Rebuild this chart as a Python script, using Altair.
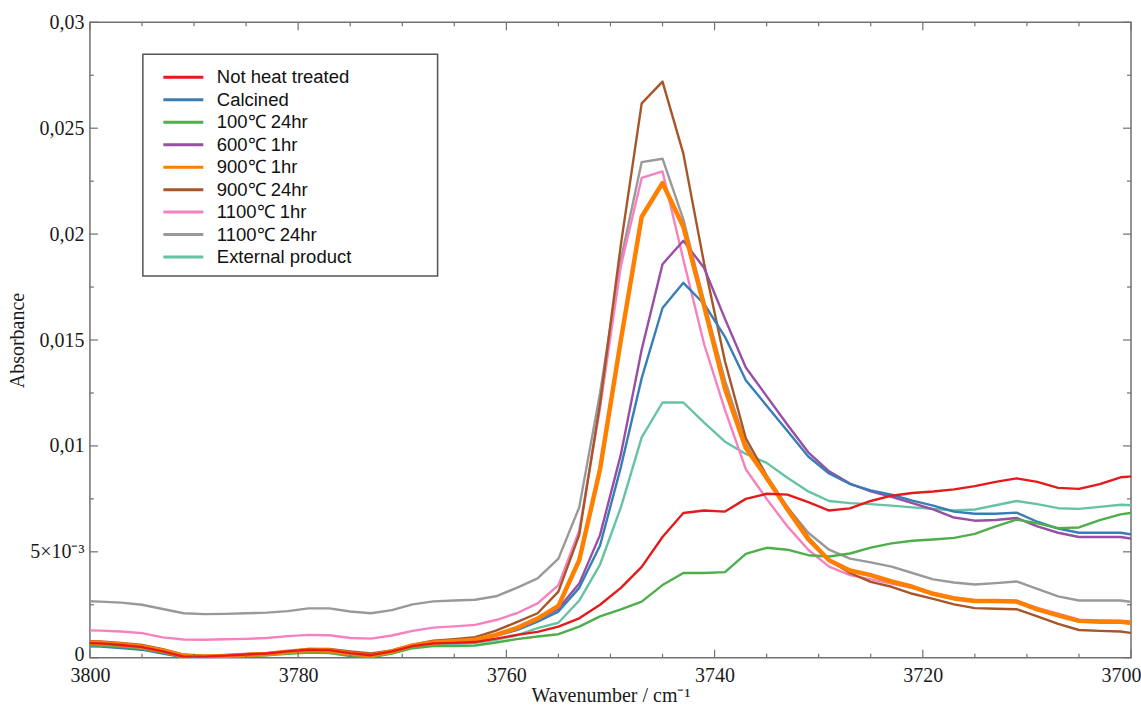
import altair as alt
import pandas as pd

# ---------------- data ----------------
wavenumber = [3801, 3799, 3797, 3795, 3793, 3791, 3789, 3787, 3785, 3783,
              3781, 3779, 3777, 3775, 3773, 3771, 3769, 3767, 3765, 3763,
              3761, 3759, 3757, 3755, 3753, 3751, 3749, 3747, 3745, 3743,
              3741, 3739, 3737, 3735, 3733, 3731, 3729, 3727, 3725, 3723,
              3721, 3719, 3717, 3715, 3713, 3711, 3709, 3707, 3705, 3703,
              3701, 3699]

not_heat_treated = [0.00070, 0.00068, 0.00060, 0.00050, 0.00030, 0.00005, 0.00005, 0.00010, 0.00015, 0.00020,
                    0.00030, 0.00038, 0.00036, 0.00022, 0.00012, 0.00030, 0.00055, 0.00068, 0.00070, 0.00074,
                    0.00090, 0.00108, 0.00122, 0.00147, 0.00186, 0.00250, 0.00330, 0.00429, 0.00570, 0.00683,
                    0.00695, 0.00690, 0.00750, 0.00774, 0.00770, 0.00735, 0.00695, 0.00705, 0.00740, 0.00765,
                    0.00778, 0.00785, 0.00795, 0.00810, 0.00830, 0.00847, 0.00830, 0.00802, 0.00797, 0.00820,
                    0.00852, 0.00860]

calcined = [0.00055, 0.00053, 0.00046, 0.00038, 0.00020, 0.00002, 0.00000, 0.00005, 0.00010, 0.00015,
            0.00025, 0.00032, 0.00030, 0.00018, 0.00010, 0.00030, 0.00058, 0.00072, 0.00078, 0.00084,
            0.00105, 0.00130, 0.00170, 0.00218, 0.00330, 0.00530, 0.00900, 0.01320, 0.01651, 0.01770,
            0.01670, 0.01515, 0.01310, 0.01190, 0.01070, 0.00950, 0.00870, 0.00820, 0.00790, 0.00770,
            0.00742, 0.00718, 0.00690, 0.00680, 0.00680, 0.00685, 0.00642, 0.00610, 0.00590, 0.00590,
            0.00590, 0.00575]

c100_24hr = [0.00060, 0.00058, 0.00052, 0.00043, 0.00025, 0.00003, 0.00000, 0.00003, 0.00008, 0.00012,
             0.00018, 0.00024, 0.00022, 0.00008, 0.00002, 0.00020, 0.00045, 0.00055, 0.00055, 0.00058,
             0.00072, 0.00088, 0.00100, 0.00111, 0.00147, 0.00195, 0.00228, 0.00265, 0.00343, 0.00400,
             0.00400, 0.00404, 0.00490, 0.00519, 0.00510, 0.00484, 0.00478, 0.00492, 0.00520, 0.00540,
             0.00552, 0.00558, 0.00566, 0.00585, 0.00620, 0.00652, 0.00635, 0.00612, 0.00615, 0.00650,
             0.00677, 0.00690]

c600_1hr = [0.00060, 0.00058, 0.00050, 0.00042, 0.00024, 0.00004, 0.00002, 0.00006, 0.00012, 0.00017,
            0.00027, 0.00034, 0.00032, 0.00020, 0.00012, 0.00032, 0.00060, 0.00074, 0.00080, 0.00086,
            0.00108, 0.00135, 0.00178, 0.00232, 0.00350, 0.00580, 0.00960, 0.01455, 0.01858, 0.01969,
            0.01840, 0.01600, 0.01370, 0.01235, 0.01100, 0.00970, 0.00880, 0.00822, 0.00785, 0.00760,
            0.00730, 0.00700, 0.00662, 0.00647, 0.00650, 0.00660, 0.00620, 0.00590, 0.00570, 0.00570,
            0.00570, 0.00555]

c900_1hr = [0.00072, 0.00070, 0.00062, 0.00052, 0.00033, 0.00008, 0.00005, 0.00008, 0.00013, 0.00018,
            0.00028, 0.00036, 0.00034, 0.00020, 0.00010, 0.00030, 0.00058, 0.00072, 0.00078, 0.00085,
            0.00108, 0.00140, 0.00185, 0.00245, 0.00460, 0.00890, 0.01500, 0.02082, 0.02241, 0.02035,
            0.01660, 0.01270, 0.00990, 0.00850, 0.00700, 0.00560, 0.00460, 0.00412, 0.00390, 0.00360,
            0.00335, 0.00302, 0.00280, 0.00268, 0.00268, 0.00265, 0.00228, 0.00200, 0.00174, 0.00170,
            0.00170, 0.00160]

c900_24hr = [0.00078, 0.00077, 0.00070, 0.00060, 0.00040, 0.00015, 0.00010, 0.00012, 0.00018, 0.00022,
             0.00030, 0.00042, 0.00042, 0.00030, 0.00020, 0.00035, 0.00062, 0.00080, 0.00088, 0.00097,
             0.00128, 0.00168, 0.00210, 0.00312, 0.00580, 0.01200, 0.01950, 0.02617, 0.02720, 0.02380,
             0.01860, 0.01400, 0.01036, 0.00860, 0.00710, 0.00570, 0.00460, 0.00400, 0.00358, 0.00335,
             0.00302, 0.00278, 0.00252, 0.00234, 0.00231, 0.00229, 0.00195, 0.00160, 0.00131, 0.00127,
             0.00124, 0.00110]

c1100_1hr = [0.00130, 0.00128, 0.00124, 0.00116, 0.00096, 0.00086, 0.00085, 0.00087, 0.00089, 0.00093,
             0.00102, 0.00108, 0.00106, 0.00093, 0.00090, 0.00105, 0.00127, 0.00142, 0.00148, 0.00155,
             0.00178, 0.00210, 0.00257, 0.00343, 0.00600, 0.01180, 0.01850, 0.02265, 0.02296, 0.01880,
             0.01480, 0.01170, 0.00890, 0.00750, 0.00620, 0.00510, 0.00430, 0.00390, 0.00370, 0.00350,
             0.00330, 0.00305, 0.00285, 0.00272, 0.00272, 0.00268, 0.00235, 0.00208, 0.00180, 0.00176,
             0.00174, 0.00165]

c1100_24hr = [0.00268, 0.00265, 0.00260, 0.00250, 0.00230, 0.00210, 0.00206, 0.00207, 0.00210, 0.00213,
              0.00220, 0.00233, 0.00233, 0.00218, 0.00210, 0.00225, 0.00252, 0.00266, 0.00270, 0.00274,
              0.00290, 0.00330, 0.00375, 0.00468, 0.00710, 0.01250, 0.01880, 0.02340, 0.02356, 0.02070,
              0.01680, 0.01310, 0.01010, 0.00840, 0.00710, 0.00590, 0.00510, 0.00468, 0.00450, 0.00430,
              0.00400, 0.00370, 0.00355, 0.00346, 0.00352, 0.00360, 0.00325, 0.00290, 0.00270, 0.00270,
              0.00270, 0.00258]

external_product = [0.00058, 0.00056, 0.00048, 0.00040, 0.00022, 0.00003, 0.00001, 0.00005, 0.00010, 0.00014,
                    0.00022, 0.00028, 0.00026, 0.00012, 0.00005, 0.00025, 0.00050, 0.00062, 0.00065, 0.00070,
                    0.00085, 0.00105, 0.00140, 0.00165, 0.00270, 0.00440, 0.00710, 0.01040, 0.01205, 0.01205,
                    0.01110, 0.01020, 0.00962, 0.00920, 0.00850, 0.00785, 0.00740, 0.00730, 0.00725, 0.00718,
                    0.00710, 0.00703, 0.00695, 0.00700, 0.00720, 0.00740, 0.00725, 0.00706, 0.00703, 0.00712,
                    0.00722, 0.00718]

series_names = ["Not heat treated", "Calcined", "100\u2103 24hr", "600\u2103 1hr", "900\u2103 1hr",
                "900\u2103 24hr", "1100\u2103 1hr", "1100\u2103 24hr", "External product"]
series_values = [not_heat_treated, calcined, c100_24hr, c600_1hr, c900_1hr,
                 c900_24hr, c1100_1hr, c1100_24hr, external_product]
series_colors = ["#e41a1c", "#377eb8", "#4daf4a", "#984ea3", "#ff7f00",
                 "#a65628", "#f781bf", "#999999", "#66c2a5"]
series_widths = [2.4, 2.4, 2.4, 2.4, 4.5, 2.4, 2.4, 2.4, 2.4]
draw_order = [8, 7, 6, 5, 3, 1, 2, 4, 0]

x_major = [3800, 3780, 3760, 3740, 3720, 3700]
x_minor = [3795, 3790, 3785, 3775, 3770, 3765, 3755, 3750, 3745,
           3735, 3730, 3725, 3715, 3710, 3705]
y_major = [0, 0.005, 0.01, 0.015, 0.02, 0.025, 0.03]
y_minor = [0.0025, 0.0075, 0.0125, 0.0175, 0.0225, 0.0275]

# ---------------- chart ----------------
W, H = 1042, 636
FRAME = "#707070"
SERIF = "Liberation Serif"

rows = []
for name, vals in zip(series_names, series_values):
    for w, v in zip(wavenumber, vals):
        rows.append({"series": name, "wavenumber": w, "absorbance": v})
df = pd.DataFrame(rows)

xscale = alt.Scale(domain=[3700, 3800], reverse=True, nice=False, zero=False)
yscale = alt.Scale(domain=[0, 0.03], nice=False, zero=False)

xaxis = alt.Axis(values=x_major, format="d", ticks=False, domain=False, grid=False,
                 labelFont=SERIF, labelFontSize=20, labelColor="#1a1a1a", labelPadding=8,
                 labelAlign={"condition": {"test": "datum.value == 3700", "value": "right"}, "value": "center"},
                 labelOffset={"condition": {"test": "datum.value == 3700", "value": 10}, "value": 0},
                 titleFont=SERIF, titleFontSize=20, titleFontWeight="normal", titleColor="#1a1a1a",
                 titlePadding=0)
yaxis = alt.Axis(values=y_major, ticks=False, domain=False, grid=False,
                 labelExpr="datum.value == 0 ? '0' : (abs(datum.value - 0.005) < 1e-9 ? '5\u00d710\u207b\u00b3' : replace(format(datum.value, '.3~f'), '.', ','))",
                 labelOffset={"condition": {"test": "datum.value == 0", "value": -3}, "value": 0},
                 labelFont=SERIF, labelFontSize=20, labelColor="#1a1a1a", labelPadding=6,
                 titleFont=SERIF, titleFontSize=20, titleFontWeight="normal", titleColor="#1a1a1a",
                 titlePadding=2)

X_TITLE = "Wavenumber / cm\u207b\u00b9"
Y_TITLE = "Absorbance"

legend = alt.Legend(orient="none", legendX=72, legendY=46, title=None,
                    symbolType="stroke", symbolSize=1600, symbolStrokeWidth=3,
                    clipHeight=18, rowPadding=3.5,
                    labelFont="Liberation Sans", labelFontSize=18.5, labelColor="#111111",
                    labelOffset=12, padding=0, labelLimit=400)

color_enc = alt.Color("series:N", scale=alt.Scale(domain=series_names, range=series_colors), legend=legend)

base = alt.Chart(df)
layers = []
for i in draw_order:
    layers.append(
        base.transform_filter(alt.datum.series == series_names[i])
        .mark_line(clip=True, strokeJoin="round", strokeWidth=series_widths[i])
        .encode(
            x=alt.X("wavenumber:Q", scale=xscale, axis=xaxis, title=X_TITLE),
            y=alt.Y("absorbance:Q", scale=yscale, axis=yaxis, title=Y_TITLE),
            color=color_enc,
        )
    )

xmaj_df = pd.DataFrame({"t": x_major})
xmin_df = pd.DataFrame({"t": x_minor})
ymaj_df = pd.DataFrame({"t": y_major})
ymin_df = pd.DataFrame({"t": y_minor})

def xticks(data, length):
    enc_x = alt.X("t:Q", scale=xscale, axis=xaxis, title=X_TITLE)
    bottom = alt.Chart(data).mark_rule(color=FRAME, strokeWidth=1.2).encode(
        x=enc_x, y=alt.value(H), y2=alt.value(H - length))
    top = alt.Chart(data).mark_rule(color=FRAME, strokeWidth=1.2).encode(
        x=enc_x, y=alt.value(0), y2=alt.value(length))
    return [bottom, top]

def yticks(data, length):
    enc_y = alt.Y("t:Q", scale=yscale, axis=yaxis, title=Y_TITLE)
    left = alt.Chart(data).mark_rule(color=FRAME, strokeWidth=1.2).encode(
        y=enc_y, x=alt.value(0), x2=alt.value(length))
    right = alt.Chart(data).mark_rule(color=FRAME, strokeWidth=1.2).encode(
        y=enc_y, x=alt.value(W), x2=alt.value(W - length))
    return [left, right]

tick_layers = xticks(xmaj_df, 8) + xticks(xmin_df, 4) + yticks(ymaj_df, 8) + yticks(ymin_df, 4)

legend_box = alt.Chart(pd.DataFrame({"k": [0]})).mark_rect(
    fillOpacity=0, stroke="#555555", strokeWidth=1.5
).encode(x=alt.value(53), x2=alt.value(348), y=alt.value(32), y2=alt.value(254))

chart = (
    alt.layer(*layers, *tick_layers, legend_box)
    .properties(width=W, height=H,
                padding={"left": 7, "top": 12, "right": 0, "bottom": 0},
                background="white")
    .configure_view(stroke=FRAME, strokeWidth=1.5)
)

chart.save("out.html", embed_options={"renderer": "svg", "actions": False})
